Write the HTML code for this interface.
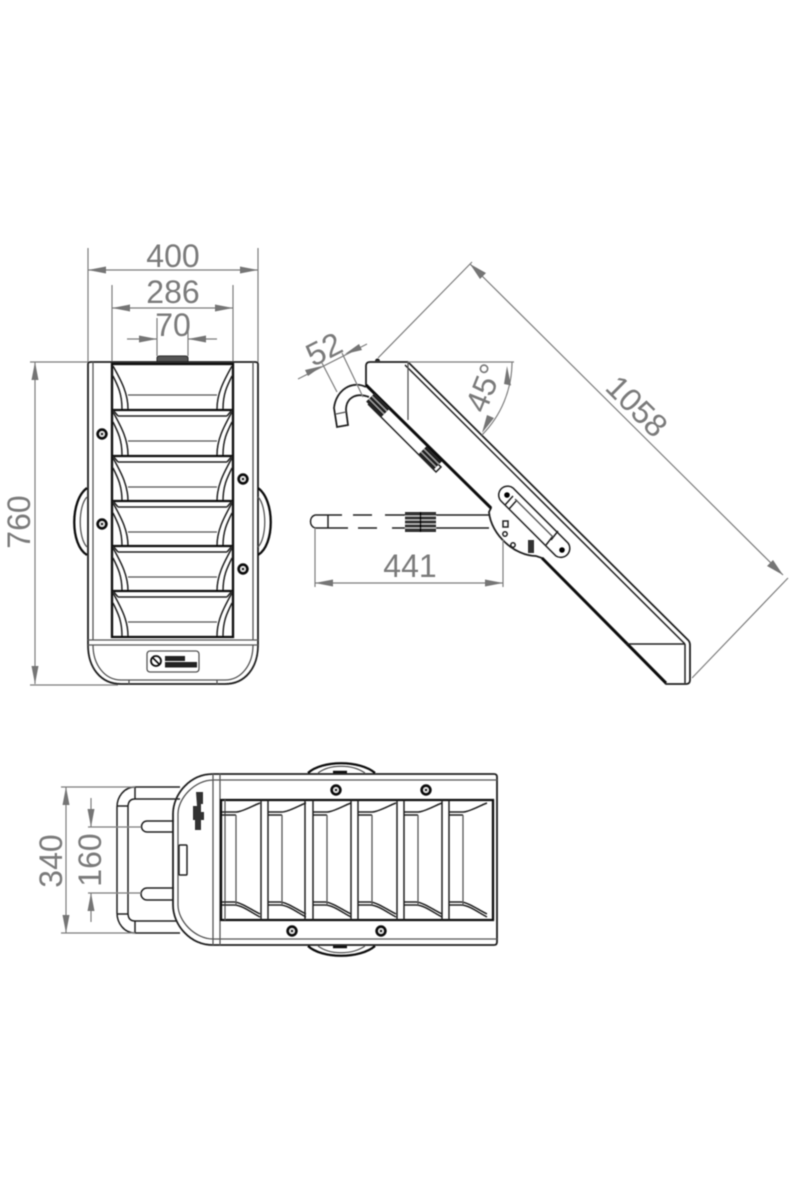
<!DOCTYPE html>
<html><head><meta charset="utf-8"><style>
html,body{margin:0;padding:0;background:#fff}
svg{display:block}
text{font-family:"Liberation Sans",sans-serif;font-size:32px;fill:#7a7a7a;text-anchor:middle}
.d{stroke:#7d7d7d;stroke-width:1.2;fill:none}
.a{fill:#757575;stroke:none}
.k{stroke:#222;stroke-width:1.5;fill:none}
.h{stroke:#111;stroke-width:2.3;fill:none}
.g{stroke:#555;stroke-width:1.3;fill:none}
</style></head><body>
<svg width="800" height="1200" viewBox="0 0 800 1200" xmlns="http://www.w3.org/2000/svg">
<defs>
<filter id="b" x="-5%" y="-5%" width="110%" height="110%"><feGaussianBlur stdDeviation="0.6"/></filter>
<g id="lv">
<path class="k" d="M113,2C122,18 128,30 128,45M113,12C118,22 122,30 122,45M232,2C223,18 217,30 217,45M232,12C227,22 223,30 223,45"/>
<path class="g" d="M128,31H217"/>
</g>
<g id="bar">
<path class="h" d="M112,0H233"/>
<path class="k" d="M118,6H227M113,0L118,6M232,0L227,6"/>
</g>
<g id="cell">
<path class="k" d="M0,812H14C20,812 30,806 38,803M0,815H14M0,905H12C20,905 30,913 38,917M0,902H12C18,902 30,910 38,914"/>
<path class="g" d="M14,815V905"/>
</g>
<g id="bolt"><circle r="4.200" fill="#fff" stroke="#111" stroke-width="3"/><circle r="1.500" fill="#222"/></g>
<g id="roll"><rect x="-12" y="-6" width="24" height="12" fill="#222"/><path d="M-12,-2H12M-12,2H12" stroke="#bbb" stroke-width=".9"/></g>
</defs>

<g filter="url(#b)">
<!-- FRONT VIEW -->
<path class="d" d="M88,248V362M258,248V362M112,285V364M233,285V364M157,318V356M188,318V356M30,362H88M30,685H118"/>
<path class="d" d="M88,270H258M112,308H233M127,339H157M188,339H217M35,362V684"/>
<path class="a" d="M88,270l18,-3.500v7zM258,270l-18,-3.500v7zM112,308l18,-3.500v7zM233,308l-18,-3.500v7zM157,339l-18,-3.500v7zM188,339l18,-3.500v7zM35,362l-3.500,18h7zM35,684l-3.500,-18h7z"/>
<text x="173" y="267">400</text>
<text x="173" y="303">286</text>
<text x="173" y="336">70</text>
<text transform="translate(30,522) rotate(-90)">760</text>

<path d="M157,362V358Q157,356 160,356H185Q188,356 188,358V362Z" fill="#555" stroke="#222"/>
<path class="k" style="stroke-width:1.8" d="M88,364Q88,362 91,362H255Q258,362 258,364V645C258,668 245,684 225,684H121C101,684 88,668 88,645Z"/>
<path class="g" d="M93,362V640M253,362V640M88,640H258M88,645H258M93,645C93,665 105,680 121,680H225C241,680 253,665 253,645M129,680V684M217,680V684"/>
<rect x="112" y="364" width="121" height="273" class="h"/>
<use href="#lv" y="364"/><use href="#lv" y="410"/><use href="#lv" y="456"/><use href="#lv" y="501"/><use href="#lv" y="546"/><use href="#lv" y="591"/>
<use href="#bar" y="410"/><use href="#bar" y="456"/><use href="#bar" y="501"/><use href="#bar" y="546"/><use href="#bar" y="591"/>
<use href="#bolt" x="102" y="434"/><use href="#bolt" x="102" y="524"/><use href="#bolt" x="243" y="479"/><use href="#bolt" x="243" y="569"/>
<path class="h" d="M87,488C70,500 70,545 87,555M258,488C275,500 275,545 258,555"/>
<path class="g" d="M87,497C78,506 78,538 87,547M258,497C267,506 267,538 258,547"/>
<rect x="147" y="651" width="52" height="21" rx="3" class="g"/>
<circle cx="156" cy="661" r="5" fill="none" stroke="#111" stroke-width="1.800"/><path d="M152.500,657.500L159.500,664.500" stroke="#111" stroke-width="1.600"/>
<rect x="165" y="656" width="20" height="5" fill="#222"/><rect x="165" y="662" width="32" height="5.500" fill="#222"/>

<!-- SIDE VIEW -->
<path class="k" style="stroke-width:1.8" d="M366,385V366Q366,362 370,362H408L688,640Q690,642 690,645V680Q690,684 686,684H666L542,558L536,556C515,556 491,535 489,512L491,508L366,385Z"/>
<path class="h" style="stroke-width:3" d="M366,385L491,508M542,558L666,683"/>
<path class="k" d="M405,365L685,644M626,644H685M685,644V683"/>
<path class="g" d="M408,362V420"/>
<path d="M375,361a2.500,2.500 0 0 1 5,0z" fill="#222"/>
<!-- hook -->
<path class="k" style="stroke-width:1.800" d="M366,387C352,380 336,390 334,408L337,427L348,425L346,410C346,398 356,392 369,397"/>
<path class="g" d="M336,414L346,412"/>
<path class="k" d="M368,404L436,472L441,467L434,460"/>
<g transform="translate(378,405) rotate(45) scale(.9,1)"><use href="#roll"/></g>
<g transform="translate(430,458) rotate(45) scale(.9,1)"><use href="#roll"/></g>
<!-- plate -->
<path class="k" d="M501,489A9,9 0 0 1 513,488L568,543A9,9 0 0 1 556,556L501,501A9,9 0 0 1 501,489Z"/>
<path class="k" d="M513,496L505,505M517,500L509,509M551,540L558,531M546,545L553,536"/>
<path class="g" d="M515,499L553,537"/>
<circle cx="507" cy="495" r="2.800" fill="#000"/><circle cx="562" cy="550" r="2.800" fill="#000"/>
<rect x="503" y="521" width="5" height="6" class="k"/><circle cx="505" cy="534" r="2.200" class="k"/><circle cx="513" cy="545" r="2.200" class="k"/><rect x="528" y="540" width="6" height="13" fill="#333"/>
<!-- horizontal rail -->
<path class="k" d="M436,515H490M436,528H489M405,515H385M405,528H392M372,515H353M377,528H358M342,515H315M348,528H315M328,515V528"/>
<path class="k" d="M315,515C309,517 309,526 315,528"/>
<rect x="405" y="512" width="31" height="20" fill="#333"/><path d="M405,516H436M405,520H436M405,524H436M405,528H436" stroke="#ccc" stroke-width=".9"/><path d="M420.500,512V532" stroke="#000" stroke-width="1.500"/>
<!-- side dims -->
<path class="d" d="M315,528V587M503,540V587M408,362H514"/>
<path class="d" d="M315,583H503"/>
<path class="a" d="M315,583l18,-3.500v7zM503,583l-18,-3.500v7z"/>
<text x="410" y="577">441</text>
<path class="d" d="M512,362A104,104 0 0 1 482,435"/>
<path class="a" d="M507,366l-3,18,7,1.500zM482,433l5,-18,7,3z"/>
<text transform="translate(494,392) rotate(-68)">45°</text>
<path class="d" d="M378,358L472,262M692,678L788,578M337,392L322,363M363,397L342,353"/>
<path class="d" d="M470,264L783,575M298,379L367,344"/>
<path class="a" d="M470,264l16,9,-6,6zM783,575l-16,-9,6,-6zM322,366l-17,4,3,6zM345,354l17,-4,-3,-6z"/>
<text transform="translate(629,414) rotate(45)">1058</text>
<text transform="translate(329,359) rotate(-27)">52</text>

<!-- BOTTOM VIEW -->
<path class="k" style="stroke-width:1.800" d="M213,774H494Q497,774 497,777V942Q497,945 494,945H213C190,945 173,925 173,905V814C173,794 190,774 213,774Z"/>
<path class="g" d="M213,780C195,780 178,798 178,814V905C178,921 195,939 213,939M213,774V945M220,774V945M213,780H497M213,939H497"/>
<path class="h" d="M221,800H493V920H221Z"/>
<path class="g" d="M225,800V920"/>
<path class="k" d="M261,800V920M268,800V920M305,800V920M313,800V920M351,800V920M358,800V920M397,800V920M404,800V920M442,800V920M449,800V920"/>
<use href="#cell" x="222"/><use href="#cell" x="268"/><use href="#cell" x="313"/><use href="#cell" x="358"/><use href="#cell" x="404"/><use href="#cell" x="449"/>
<use href="#bolt" x="336" y="790"/><use href="#bolt" x="426" y="790"/><use href="#bolt" x="292" y="931"/><use href="#bolt" x="381" y="931"/>
<path class="h" d="M308,773C322,760 360,760 375,773M308,946C322,959 360,959 375,946"/>
<path class="g" d="M318,773C330,764 352,764 365,773M318,946C330,955 352,955 365,946"/>
<path d="M333,772h14M333,947h14" stroke="#111" stroke-width="2.500"/>
<!-- handle -->
<path class="k" d="M180,787H135C124,787 117,797 117,807V913C117,923 124,933 135,933H180M180,799H135C130,799 128,802 128,807V913C128,918 130,921 135,921H177M117,806H128M117,914H128M135,787V799M135,921V933"/>
<path class="k" d="M174,821H147A5.500,5.500 0 0 0 147,832H173M174,888H147A5.500,5.500 0 0 0 147,900H173"/>
<rect x="179" y="845" width="8" height="30" rx="1" class="k"/>
<path d="M196,792H203V804H201V812H204V820H201V830H195V820H193V806H197Z" fill="#333"/>
<!-- bottom dims -->
<path class="d" d="M61,787H135M61,933H135M88,827H141M88,893H141"/>
<path class="d" d="M66,787V933M91,798V827M91,893V922"/>
<path class="a" d="M66,787l-3.500,18h7zM66,933l-3.500,-18h7zM91,827l-3.500,-18h7zM91,893l-3.500,18h7z"/>
<text transform="translate(62,861) rotate(-90)">340</text>
<text transform="translate(101,860) rotate(-90)">160</text>
</g>
</svg>
</body></html>
